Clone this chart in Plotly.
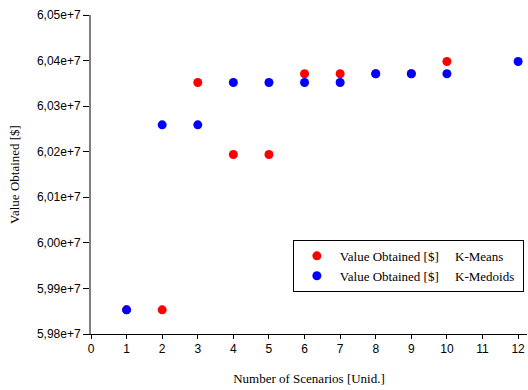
import plotly.graph_objects as go

kmeans_x = [1, 2, 3, 4, 5, 6, 7, 8, 9, 10]
kmeans_y = [5.9853e7, 5.9853e7, 6.0352e7, 6.0194e7, 6.0194e7, 6.0371e7, 6.0371e7, 6.0371e7, 6.0371e7, 6.0398e7]
kmedoids_x = [1, 2, 3, 4, 5, 6, 7, 8, 9, 10, 12]
kmedoids_y = [5.9853e7, 6.0259e7, 6.0259e7, 6.0352e7, 6.0352e7, 6.0352e7, 6.0352e7, 6.0371e7, 6.0371e7, 6.0371e7, 6.0398e7]
x_ticks = list(range(0, 13))
y_ticks = [5.98e7, 5.99e7, 6.00e7, 6.01e7, 6.02e7, 6.03e7, 6.04e7, 6.05e7]

nb = "\u00a0"
dollar = "&#36;"
fig = go.Figure()
fig.add_trace(go.Scatter(x=kmeans_x, y=kmeans_y, mode="markers",
                         marker=dict(color="#ff0000", size=9),
                         name="Value Obtained [" + dollar + "]" + nb * 5 + "K-Means"))
fig.add_trace(go.Scatter(x=kmedoids_x, y=kmedoids_y, mode="markers",
                         marker=dict(color="#0000ff", size=9),
                         name="Value Obtained [" + dollar + "]" + nb * 5 + "K-Medoids" + nb))

fig.update_layout(
    width=528, height=390,
    margin=dict(l=91, r=1, t=15, b=56),
    plot_bgcolor="white", paper_bgcolor="white",
    separators=",.",
    showlegend=True,
    legend=dict(x=0.463, y=0.295, xanchor="left", yanchor="top",
                bordercolor="black", borderwidth=1, bgcolor="white",
                font=dict(family="Liberation Serif", size=13, color="black"),
                tracegroupgap=0, itemwidth=36),
    font=dict(family="Liberation Sans", size=12, color="black"),
)
fig.update_xaxes(range=[0, 12.25], tickvals=x_ticks, ticks="outside", ticklen=4,
                 tickcolor="black", showline=True, linecolor="black", linewidth=1,
                 showgrid=False, zeroline=False,
                 title=dict(text="Number of Scenarios [Unid.]",
                            font=dict(family="Liberation Serif", size=13), standoff=18),
                 tickfont=dict(family="Liberation Sans", size=12))
fig.update_yaxes(range=[5.98e7, 6.05e7], tickvals=y_ticks, tickformat=".2e",
                 ticks="outside", ticklen=6, tickcolor="black",
                 showline=True, linecolor="#808080", linewidth=2,
                 showgrid=False, zeroline=False,
                 title=dict(text="Value Obtained [" + dollar + "]",
                            font=dict(family="Liberation Serif", size=13), standoff=14),
                 tickfont=dict(family="Liberation Sans", size=12))

fig.write_html("out.html")
